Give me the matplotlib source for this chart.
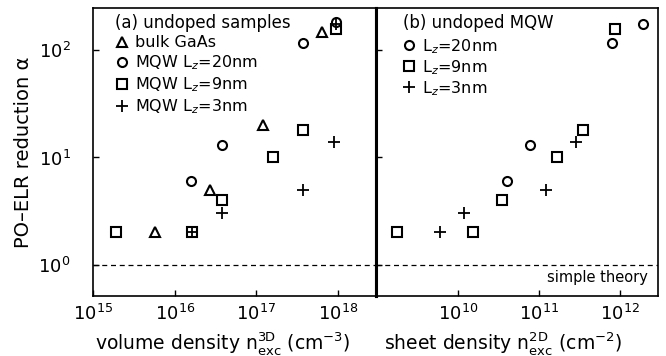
import matplotlib
matplotlib.use('Agg')
import matplotlib.pyplot as plt
from matplotlib.lines import Line2D

# ---- data ----
# (a) undoped samples, volume density (cm^-3)
bulk_n3d = [5.7e15, 2.7e16, 1.2e17, 6.3e17]
bulk_alpha = [2.0, 5.0, 20.0, 148.0]

mqw20_n3d = [1.6e16, 3.85e16, 3.7e17, 9.4e17]
mqw20_alpha = [6.0, 13.0, 118.0, 185.0]

mqw9_n3d = [1.9e15, 1.65e16, 3.85e16, 1.6e17, 3.7e17, 9.4e17]
mqw9_alpha = [2.0, 2.0, 4.0, 10.0, 18.0, 160.0]

mqw3_n3d = [1.65e16, 3.85e16, 3.75e17, 8.9e17, 9.4e17]
mqw3_alpha = [2.0, 3.0, 5.0, 14.0, 175.0]

# (b) undoped MQW, sheet density (cm^-2)
mqw20_n2d = [4.0e10, 7.8e10, 8.0e11, 1.95e12]
mqw20_alpha_b = [6.0, 13.0, 118.0, 175.0]

mqw9_n2d = [1.8e9, 1.56e10, 3.55e10, 1.66e11, 3.55e11, 8.7e11]
mqw9_alpha_b = [2.0, 2.0, 4.0, 10.0, 18.0, 158.0]

mqw3_n2d = [6.0e9, 1.2e10, 1.23e11, 2.9e11]
mqw3_alpha_b = [2.0, 3.0, 5.0, 14.0]

theory_alpha = 1.0

left_ticks = [1e15, 1e16, 1e17, 1e18]
left_ticklabels = ['$10^{15}$', '$10^{16}$', '$10^{17}$', '$10^{18}$']
right_ticks = [1e10, 1e11, 1e12]
right_ticklabels = ['$10^{10}$', '$10^{11}$', '$10^{12}$']
y_ticks = [1, 10, 100]
y_ticklabels = ['$10^{0}$', '$10^{1}$', '$10^{2}$']

plt.rcParams['font.family'] = 'DejaVu Sans'
plt.rcParams['mathtext.fontset'] = 'dejavusans'

fig = plt.figure(figsize=(6.66, 3.56), dpi=100)
ax1 = fig.add_axes([0.1396, 0.1685, 0.425, 0.809])
ax2 = fig.add_axes([0.5646, 0.1685, 0.4234, 0.809])

tri = dict(marker='^', ms=6.5, mfc='white', mec='black', mew=1.5, ls='none')
circ = dict(marker='o', ms=6.5, mfc='white', mec='black', mew=1.5, ls='none')
sq = dict(marker='s', ms=6.5, mfc='white', mec='black', mew=1.5, ls='none')
plus = dict(marker='+', ms=8.5, mec='black', mew=1.3, ls='none')

ax1.plot(bulk_n3d, bulk_alpha, **tri)
ax1.plot(mqw9_n3d, mqw9_alpha, **sq)
ax1.plot(mqw20_n3d, mqw20_alpha, **circ)
ax1.plot(mqw3_n3d, mqw3_alpha, **plus)

ax2.plot(mqw9_n2d, mqw9_alpha_b, **sq)
ax2.plot(mqw20_n2d, mqw20_alpha_b, **circ)
ax2.plot(mqw3_n2d, mqw3_alpha_b, **plus)

for ax in (ax1, ax2):
    ax.set_xscale('log')
    ax.set_yscale('log')
    ax.set_ylim(0.508, 249)
    ax.axhline(theory_alpha, color='black', lw=0.9, ls=(0, (4, 3)))
    ax.minorticks_off()
    ax.tick_params(direction='in', length=4, width=1, labelsize=13)
    for s in ax.spines.values():
        s.set_linewidth(1.2)

ax1.set_xlim(1e15, 2.92e18)
ax2.set_xlim(9.8e8, 2.95e12)
ax1.spines['right'].set_linewidth(2.2)
ax2.spines['left'].set_linewidth(2.2)

ax1.set_xticks(left_ticks)
ax1.set_xticklabels(left_ticklabels)
ax1.set_yticks(y_ticks)
ax1.set_yticklabels(y_ticklabels)
ax1.tick_params(axis='x', pad=6)
ax1.tick_params(axis='y', pad=16)

ax2.set_xticks(right_ticks)
ax2.set_xticklabels(right_ticklabels)
ax2.set_yticks(y_ticks)
ax2.set_yticklabels([])
ax2.tick_params(axis='x', pad=6)

ax1.set_ylabel('PO\u2013ELR reduction \u03b1', fontsize=14, labelpad=4)
ax1.set_xlabel(r'volume density n$^{\mathrm{3D}}_{\mathrm{exc}}$ (cm$^{-3}$)',
               fontsize=13.5)
ax1.xaxis.set_label_coords(0.46, -0.118)
ax2.set_xlabel(r'sheet density n$^{\mathrm{2D}}_{\mathrm{exc}}$ (cm$^{-2}$)',
               fontsize=13.5)
ax2.xaxis.set_label_coords(0.45, -0.118)

# legends
ax1.text(0.078, 0.978, '(a) undoped samples', transform=ax1.transAxes,
         fontsize=12, va='top', ha='left')
h1 = [Line2D([], [], **tri), Line2D([], [], **circ), Line2D([], [], **sq),
      Line2D([], [], **plus)]
ax1.legend(h1, ['bulk GaAs', 'MQW L$_z$=20nm', 'MQW L$_z$=9nm', 'MQW L$_z$=3nm'],
           loc='upper left', bbox_to_anchor=(0.08, 0.905), frameon=False,
           fontsize=11.5, handlelength=0.8, handletextpad=0.4,
           labelspacing=0.2, borderaxespad=0, borderpad=0)

ax2.text(0.095, 0.978, '(b) undoped MQW', transform=ax2.transAxes,
         fontsize=12, va='top', ha='left')
h2 = [Line2D([], [], **circ), Line2D([], [], **sq), Line2D([], [], **plus)]
ax2.legend(h2, ['L$_z$=20nm', 'L$_z$=9nm', 'L$_z$=3nm'],
           loc='upper left', bbox_to_anchor=(0.095, 0.9), frameon=False,
           fontsize=11.5, handlelength=0.8, handletextpad=0.4,
           labelspacing=0.15, borderaxespad=0, borderpad=0)

ax2.text(0.965, 0.066, 'simple theory', transform=ax2.transAxes,
         fontsize=10.5, ha='right', va='center')

fig.savefig('out.png', dpi=100)
